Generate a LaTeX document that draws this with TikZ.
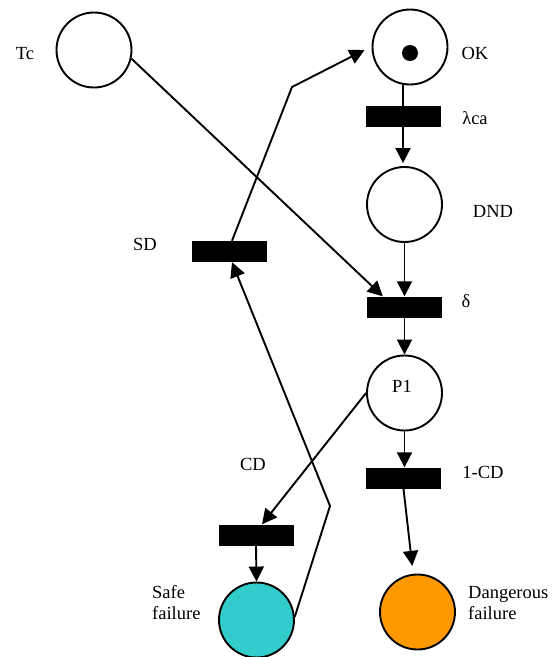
\documentclass[tikz,border=0pt]{standalone}
\usepackage{fontspec}
\setmainfont{Liberation Serif}
\usetikzlibrary{arrows.meta}
\definecolor{safecol}{HTML}{33CCCC}
\definecolor{dangercol}{HTML}{FF9900}
\begin{document}
\begin{tikzpicture}[x=1pt,y=-1pt,
  place/.style={draw,circle,line width=1.9pt,minimum size=75pt,inner sep=0pt},
  trans/.style={fill=black,draw=none,minimum width=75pt,minimum height=21pt,inner sep=0pt},
  arc/.style={line width=1.9pt,-{Triangle[length=15pt,width=15pt]}},
  plain/.style={line width=1.9pt},
  lbl/.style={font=\fontsize{18.5}{21}\selectfont,inner sep=0pt},
  lbll/.style={lbl,align=left,anchor=west}]
\useasboundingbox (0,0) rectangle (555,657);

% places
\node[place] (tc) at (94,50) {};
\node[place] (ok) at (410,47) {};
\fill (410,53) circle (8pt);
\node[place] (dnd) at (404.5,204.5) {};
\node[place] (p1) at (404.5,393) {};
\node[place,fill=safecol] (safe) at (256.5,620) {};
\node[place,fill=dangercol] (danger) at (417.5,612) {};

% transitions
\node[trans] (lca) at (403,116.5) {};
\node[trans] (delta) at (404.5,307) {};
\node[trans] (sd) at (229,251.5) {};
\node[trans] (ncd) at (403.5,478) {};
\node[trans] (cd) at (256,535) {};

% labels
\node[lbl] (ltc) at (25,54) {Tc};
\node[lbl] (lok) at (475,53) {OK};
\node[lbl] (llca) at (475,118) {λca};
\node[lbl] (ldnd) at (493,211) {DND};
\node[lbl] (lsd) at (145,244) {SD};
\node[lbl] (ldelta) at (466,301) {δ};
\node[lbl] (lp1) at (402,386) {P1};
\node[lbl] (lcd) at (253,464) {CD};
\node[lbl] (lncd) at (483,472) {1-CD};
\node[lbll] (lsafe) at (152,603) {Safe\\failure};
\node[lbll] (ldanger) at (468,603) {Dangerous\\failure};

% bends of the return paths
\coordinate (sdbend) at (292,87);
\coordinate (safebend) at (330,506);

% arcs
\draw[plain] (lca.north) -- (lca.north |- ok.south);
\draw[arc,shorten >=3pt] (lca.south) -- (lca.south |- dnd.north);
\draw[arc] (dnd.south) -- (dnd.south |- delta.north);
\draw[arc] (tc.-13) -- ([xshift=16pt]delta.north west);
\draw[arc] (delta.south) -- (delta.south |- p1.north);
\draw[arc] (p1.south) -- (p1.south |- ncd.north);
\draw[arc,shorten >=8pt] (ncd.south) -- (danger);
\draw[arc] (p1.west) -- ([xshift=6pt]cd.north);
\draw[arc] (cd.south) -- (safe.north);
\draw[arc] ([xshift=3pt]sd.north) -- (sdbend) -- ([xshift=-7pt,yshift=-3pt]ok.west);
\draw[arc] (safe.5) -- (safebend) -- ([xshift=3pt]sd.south);
\end{tikzpicture}
\end{document}
